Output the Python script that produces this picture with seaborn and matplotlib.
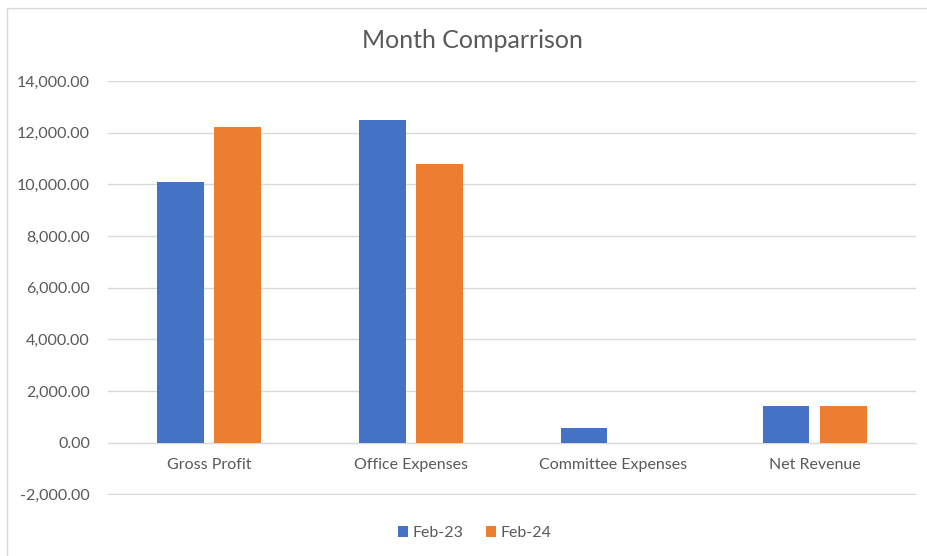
import matplotlib
matplotlib.use('Agg')
import matplotlib.pyplot as plt
import pandas as pd
import seaborn as sns
from matplotlib.lines import Line2D
from matplotlib.ticker import FuncFormatter

categories = ['Gross Profit', 'Office Expenses', 'Committee Expenses', 'Net Revenue']
feb23 = [10100, 12500, 550, 1400]
feb24 = [12200, 10800, 0, 1400]
series = ['Feb-23', 'Feb-24']

df = pd.DataFrame({'Category': categories * 2,
                   'Month': ['Feb-23'] * 4 + ['Feb-24'] * 4,
                   'value': feb23 + feb24})

sns.set_style('white')
plt.rcParams['font.family'] = ['Lato', 'DejaVu Sans']
txt = '#595959'

fig = plt.figure(figsize=(9.28, 5.56), dpi=100)
ax = fig.add_axes([0.1164, 0.1097, 0.8706, 0.7446])

sns.barplot(data=df, x='Category', y='value', hue='Month', hue_order=series,
            palette=['#4472C4', '#ED7D31'], width=0.57, gap=0.19,
            saturation=1, linewidth=0, ax=ax, zorder=3)

ax.set_ylim(-2030, 14000)
ax.set_yticks(range(-2000, 14001, 2000))
ax.yaxis.set_major_formatter(FuncFormatter(lambda v, p: f'{v:,.2f}'))
ax.grid(axis='y', color='#D9D9D9', linewidth=1, zorder=0)
for s in ['top', 'right', 'left']:
    ax.spines[s].set_visible(False)
ax.spines['bottom'].set_position(('data', 0))
ax.spines['bottom'].set_color('#D9D9D9')
ax.tick_params(axis='y', length=0, pad=13, labelsize=11.5, labelcolor=txt)
ax.tick_params(axis='x', length=0, pad=11, labelsize=11.5, labelcolor=txt)
ax.set_xlabel('')
ax.set_ylabel('')

fig.text(0.509, 0.928, 'Month Comparrison', ha='center', va='center', fontsize=18, color=txt)

leg = ax.legend(loc='center', bbox_to_anchor=(0.454, -0.092), ncol=2, frameon=False,
                fontsize=11.5, handlelength=0.6, handleheight=0.6, handletextpad=0.3,
                columnspacing=1.4, labelcolor=txt)

fig.add_artist(Line2D([7 / 928, 7 / 928], [0, 1 - 8 / 556], color='#D9D9D9', linewidth=1))
fig.add_artist(Line2D([7 / 928, 1], [1 - 8 / 556, 1 - 8 / 556], color='#D9D9D9', linewidth=1))

fig.savefig('out.png', dpi=100)
